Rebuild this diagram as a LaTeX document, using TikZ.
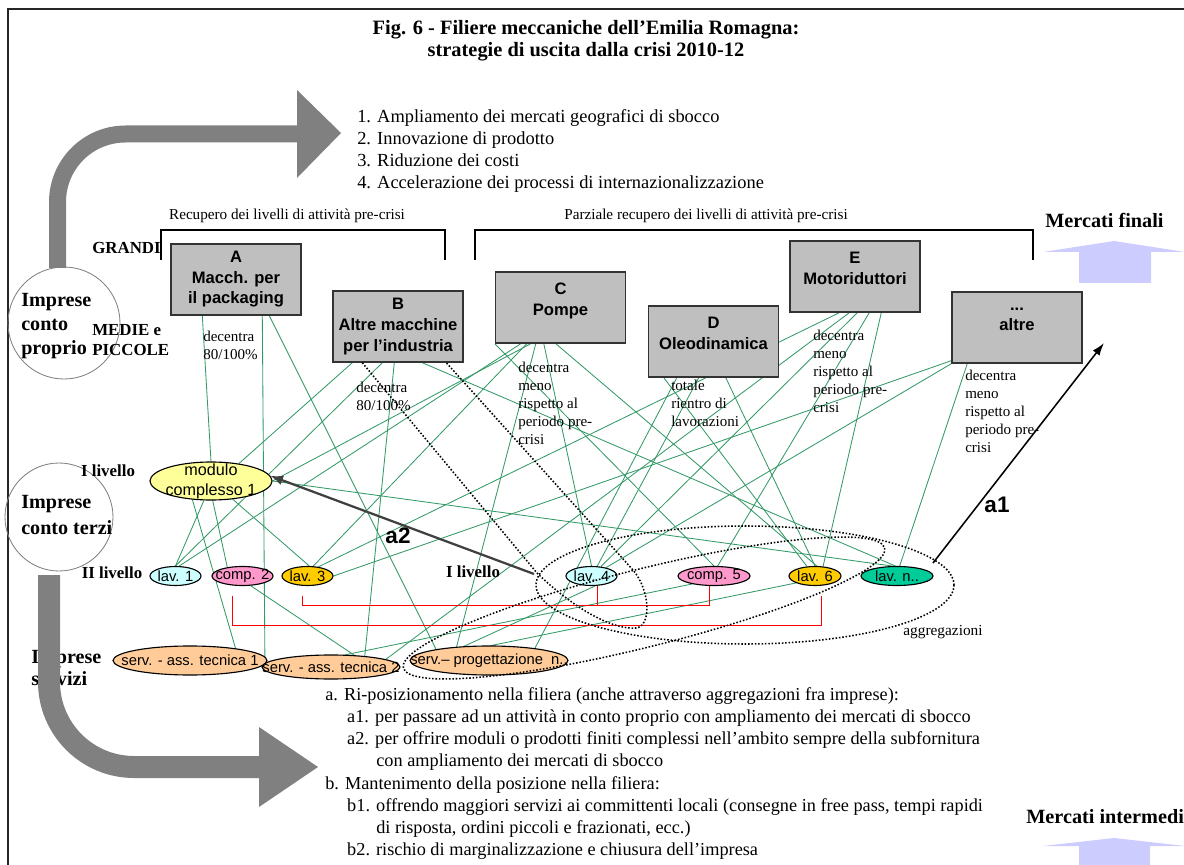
\documentclass[tikz,border=0pt]{standalone}
\usepackage{fontspec}
\setmainfont{Liberation Serif}
\setsansfont{Liberation Sans}
\usetikzlibrary{shapes.geometric,calc,arrows.meta,backgrounds}

\newdimen\pxu
\pxu=0.025cm

\definecolor{linkgreen}{HTML}{339966}
\definecolor{modfill}{HTML}{FFFF99}
\definecolor{lavfill}{HTML}{CCFFFF}
\definecolor{compfill}{HTML}{FF99CC}
\definecolor{goldfill}{HTML}{FFCC00}
\definecolor{tealfill}{HTML}{00CC99}
\definecolor{servfill}{HTML}{FFCC99}
\definecolor{marketblue}{HTML}{CCCCFF}

\tikzset{
  firm/.style={draw=black!80, fill=black!25, line width=1pt, minimum width=130*\pxu,
    minimum height=71*\pxu, inner sep=0pt, align=center,
    font=\sffamily\bfseries\fontsize{11.8}{14.6}\selectfont},
  unit/.style={ellipse, draw=black, line width=0.8pt, inner sep=0pt, minimum height=19*\pxu},
  every label/.style={inner sep=0pt, align=center, font=\sffamily\fontsize{10.5}{14}\selectfont},
  link/.style={linkgreen, line width=0.6pt},
  tie/.style={red, line width=0.7pt},
  note/.style={anchor=north west, align=left, inner sep=0pt, font=\fontsize{10.7}{12.8}\selectfont},
  tag/.style={inner sep=0pt, font=\bfseries\fontsize{12}{14.2}\selectfont},
  big/.style={inner sep=0pt, align=left, font=\bfseries\fontsize{14.3}{17}\selectfont},
  group/.style={line width=1.1pt, dash pattern=on 1.1pt off 1.3pt},
}

\begin{document}
\begin{tikzpicture}[x=0.025cm, y=-0.025cm]
\useasboundingbox (0,0) rectangle (1184,865);
\draw[line width=1pt, black!85] (8,865) -- (8,9) -- (1184,9);

% title and aims
\node[font=\bfseries\fontsize{14.5}{15.6}\selectfont, align=center] (title) at (586,41)
  {Fig. 6 - Filiere meccaniche dell'Emilia Romagna:\\strategie di uscita dalla crisi 2010-12};
\node[anchor=north west, align=left, inner sep=0pt, font=\fontsize{13.1}{15.6}\selectfont] (aims) at (357,109.6)
  {1. Ampliamento dei mercati geografici di sbocco\\2. Innovazione di prodotto\\3. Riduzione dei costi\\4. Accelerazione dei processi di internazionalizzazione};

% brackets
\draw[line width=0.8pt] (161,260) -- (161,230) -- (445,230) -- (445,260);
\draw[line width=0.8pt] (475,260) -- (475,230) -- (1033,230) -- (1033,260);
\node[font=\fontsize{10.8}{13}\selectfont] (rec) at (287,216) {Recupero dei livelli di attività pre-crisi};
\node[font=\fontsize{10.8}{13}\selectfont] (prec) at (706,216) {Parziale recupero dei livelli di attività pre-crisi};

% markets
\node[anchor=west, inner sep=0pt, font=\bfseries\fontsize{14.4}{17}\selectfont] (mfin) at (1045,220) {Mercati finali};
\fill[marketblue] (1079,283) -- (1079,252) -- (1043,252) -- (1114,241) -- (1185,252) -- (1151,252) -- (1151,283) -- cycle;
\node[anchor=west, inner sep=0pt, font=\bfseries\fontsize{14.4}{17}\selectfont] (mint) at (1026,817) {Mercati intermedi};
\fill[marketblue] (1079,870) -- (1079,846) -- (1043,846) -- (1114,838) -- (1185,846) -- (1150,846) -- (1150,870) -- cycle;

% kinds of firms
\node[circle, draw=black!50, line width=0.6pt, minimum size=112*\pxu, inner sep=0pt] (cp) at (64,323) {};
\node[circle, draw=black!50, line width=0.6pt, minimum size=108*\pxu, inner sep=0pt] (ct) at (59,517) {};
\node[big, anchor=west] (cptext) at (21,326) {Imprese\\conto\\proprio};
\node[big, anchor=west, font=\bfseries\fontsize{14.3}{17.8}\selectfont] (cttext) at (21,515) {Imprese\\conto terzi};
\node[big, anchor=west, font=\bfseries\fontsize{14.3}{15.6}\selectfont] (cstext) at (31,668) {Imprese\\servizi};
\node[tag, anchor=west] (grandi) at (92,248) {GRANDI};
\node[tag, anchor=west, align=left] (mp) at (92,340) {MEDIE e\\PICCOLE};
\node[tag] (lvA) at (108,471) {I livello};
\node[tag] (lvB) at (112,573) {II livello};
\node[tag] (lvC) at (473,572) {I livello};

% firms
\node[firm] (A) at (236,279.5) {A\\Macch. per\\il packaging};
\node[firm] (B) at (398,326.5) {B\\Altre macchine\\per l'industria};
\node[firm] (C) at (560.5,307.5) {C\\Pompe\\[-7pt]\strut};
\node[firm] (D) at (713.5,341.5) {D\\Oleodinamica\\[-7pt]\strut};
\node[firm] (E) at (855,276.5) {E\\Motoriduttori\\[-7pt]\strut};
\node[firm] (altre) at (1017,327.5) {...\\altre\\[-7pt]\strut};

\node[note] (dA) at (203,331) {decentra\\80/100\%};
\node[note] (dB) at (356,382) {decentra\\80/100\%};
\node[note] (dC) at (518,362) {decentra\\meno\\rispetto al\\periodo pre-\\crisi};
\node[note] (dD) at (671,380) {totale\\rientro di\\lavorazioni};
\node[note] (dE) at (813,330) {decentra\\meno\\rispetto al\\periodo pre-\\crisi};
\node[note] (dF) at (965,370) {decentra\\meno\\rispetto al\\periodo pre-\\crisi};

% subcontractors
\node[unit, fill=modfill, minimum width=122*\pxu, minimum height=38*\pxu,
  label={[font=\sffamily\fontsize{11.5}{14.2}\selectfont]center:{modulo\\complesso 1}}] (mod) at (211,481) {};
\node[unit, fill=lavfill, minimum width=51*\pxu, label=center:{lav. 1}] (lav1) at (175.5,576) {};
\node[unit, fill=compfill, minimum width=61*\pxu, label=center:{comp. 2}] (comp2) at (242.5,576) {};
\node[unit, fill=goldfill, minimum width=51*\pxu, label=center:{lav. 3}] (lav3) at (307.5,576) {};
\node[unit, fill=lavfill, minimum width=51*\pxu, label=center:{lav. 4}] (lav4) at (591.5,576) {};
\node[unit, fill=compfill, minimum width=72*\pxu, label=center:{comp. 5}] (comp5) at (714,576) {};
\node[unit, fill=goldfill, minimum width=52*\pxu, label=center:{lav. 6}] (lav6) at (815,576) {};
\node[unit, fill=tealfill, minimum width=72*\pxu, label=center:{lav. n..}] (lavn) at (897,576) {};
\node[unit, fill=servfill, minimum width=154*\pxu, minimum height=29*\pxu, label=center:{serv. - ass. tecnica 1}] (serv1) at (190,660.5) {};
\node[unit, fill=servfill, minimum width=138*\pxu, minimum height=24*\pxu, label=center:{serv. - ass. tecnica 2}] (serv2) at (331,667) {};
\node[unit, fill=servfill, minimum width=158*\pxu, minimum height=29*\pxu, label=center:{serv.-- progettazione\ \ n..}] (serv3) at (489,660.5) {};

\begin{scope}[on background layer]
\draw[link] ($(A.south west)+(32,0)$) -- (mod.north);
\draw[link] ($(A.south west)+(92,0)$) -- (serv1.3);
\draw[link] ($(A.south west)+(99,0)$) -- (serv3.168);
\draw[link] ($(B.south west)+(20,0)$) -- (mod.32);
\draw[link] ($(B.south west)+(50,0)$) -- (lav1.north);
\draw[link] ($(B.south west)+(62,0)$) -- (serv2.18);
\draw[link] ($(B.south west)+(90,0)$) -- (lavn.100);
\draw[link] (C.south west) -- (comp5.north);
\draw[link] ($(C.south west)+(26,0)$) -- (lav1.70);
\draw[link] ($(C.south west)+(32,0)$) -- (lav3.60);
\draw[link] ($(C.south west)+(36,0)$) -- (mod.east);
\draw[link] ($(C.south west)+(41,0)$) -- (serv3.157);
\draw[link] ($(C.south west)+(49,0)$) -- (lav4.north);
\draw[link] ($(C.south west)+(61,0)$) -- (lav6.80);
\draw[link] ($(D.south west)+(16,0)$) -- (lav6.130);
\draw[link] ($(D.south west)+(29,0)$) -- (serv3.15);
\draw[link] ($(D.south west)+(51,0)$) -- (lav4.60);
\draw[link] ($(D.south west)+(78,0)$) -- (lav6.north);
\draw[link] ($(E.south west)+(50,0)$) -- (lav3.40);
\draw[link] ($(E.south west)+(60,0)$) -- (serv2.8);
\draw[link] ($(E.south west)+(68,0)$) -- (lav4.45);
\draw[link] ($(E.south west)+(80,0)$) -- (comp5.70);
\draw[link] ($(E.south west)+(92,0)$) -- (lav6.50);
\draw[link] (altre.south west) -- (lav4.30);
\draw[link] ($(altre.south west)+(16,0)$) -- (lavn.75);
\draw[link] (lav3.east) -- ($(altre.south west)+(0,-3)$);
\draw[link] (mod.east) -- (lavn.115);
\draw[link] (mod.250) -- (lav1.north);
\draw[link] (mod.275) -- (comp2.150);
\draw[link] (mod.320) -- (lav3.80);
\draw[link] (mod.225) -- (serv1.15);
\draw[link] (comp2.310) -- (serv2.27);
\draw[link] (comp5.200) -- (serv2.40);
\draw[link] (lav6.200) -- (serv3.80);
\draw[link] (serv3.150) -- (lav4.290);
% red ties
\coordinate (r1) at ($(comp2.south)+(-10.5,9.5)$);
\coordinate (r2) at ($(lav6.south)+(6,9.5)$);
\draw[tie] (r1) -- ++(0,30) -| (r2);
\coordinate (r3) at ($(lav3.south)+(-5.5,9.5)$);
\draw[tie] (r3) -- ++(0,10) -| ($(comp5.south)+(-5,0)$);
\draw[tie] ($(lav4.south)+(5.5,0)$) -- ++(0,19.5);
\end{scope}

% aggregations
\draw[group] ($(B.south west)+(30,0)$) -- (537,573) .. controls (570,605) and (610,630) .. (636,628)
  .. controls (652,626) and (650,590) .. (633,570) -- ($(B.south west)+(114,0)$);
\draw[group] (745,585) ellipse [x radius=209, y radius=59];
\draw[group, rotate around={14:(644,608)}] (644,608) ellipse [x radius=248, y radius=39];
\node[font=\fontsize{10.9}{13}\selectfont] (agg) at (943,632) {aggregazioni};

% strategies a1, a2
\coordinate (a2s) at (534,574);
\draw[black!75, line width=1.6pt, -{Latex[length=9pt,width=7pt]}] (a2s) -- (mod.5);
\node[font=\sffamily\bfseries\fontsize{16}{18}\selectfont] (la2) at (398,536) {a2};
\coordinate (a1s) at (933,563);
\coordinate (a1e) at (1104,343);
\draw[line width=1.1pt, -{Latex[length=9pt,width=6pt]}] (a1s) -- (a1e);
\node[font=\sffamily\bfseries\fontsize{16}{18}\selectfont] (la1) at (997,505) {a1};

% big grey arrows
\draw[black!50, line width=17*\pxu, rounded corners=68*\pxu] (57.5,268) -- (57.5,134) -- (298,134);
\fill[black!50] (297,90) -- (341,133) -- (297,178) -- cycle;
\draw[black!50, line width=22*\pxu, rounded corners=85*\pxu] (49,575) -- (49,767) -- (260,767);
\fill[black!50] (259,727) -- (318,767) -- (259,807) -- cycle;

\node[anchor=north west, align=left, inner sep=0pt, font=\fontsize{13}{15.7}\selectfont] (ways) at (325,687.6)
  {a. Ri-posizionamento nella filiera (anche attraverso aggregazioni fra imprese):\\
   \hspace*{15.6pt}a1. per passare ad un attività in conto proprio con ampliamento dei mercati di sbocco\\
   \hspace*{15.6pt}a2. per offrire moduli o prodotti finiti complessi nell'ambito sempre della subfornitura\\
   \hspace*{36.3pt}con ampliamento dei mercati di sbocco\\
   b. Mantenimento della posizione nella filiera:\\
   \hspace*{15.6pt}b1. offrendo maggiori servizi ai committenti locali (consegne in free pass, tempi rapidi\\
   \hspace*{36.3pt}di risposta, ordini piccoli e frazionati, ecc.)\\
   \hspace*{15.6pt}b2. rischio di marginalizzazione e chiusura dell'impresa};
\end{tikzpicture}
\end{document}
